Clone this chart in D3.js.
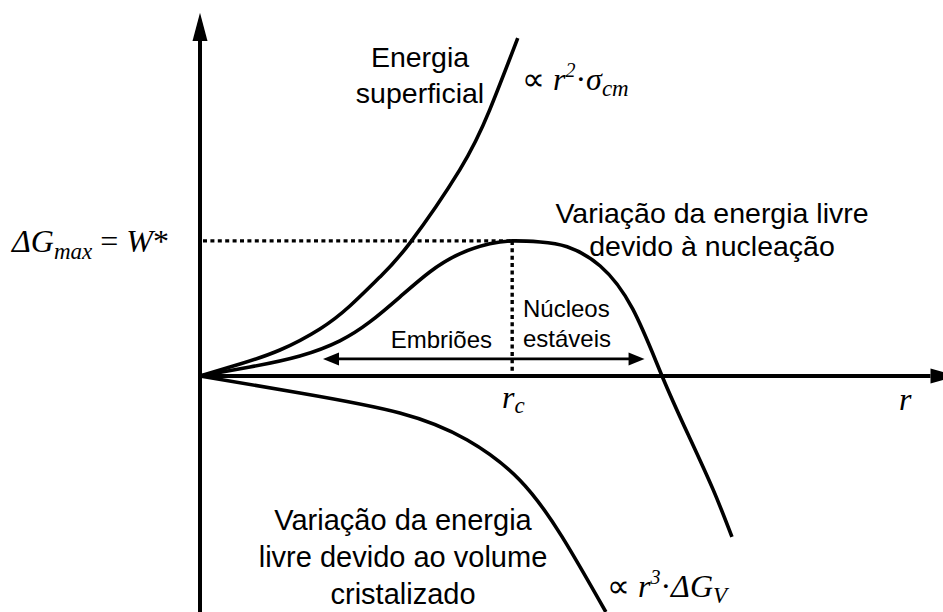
<!DOCTYPE html>
<html>
  <head>
    <meta charset="utf-8">
    <title>nucleacao</title>
    <script src="https://d3js.org/d3.v7.min.js"></script>
    <style type="text/css">
    body { margin: 0; background: #fff; }
    .curve { fill: none; stroke: #000; stroke-width: 3.6; }
    .sans { font-family: "Liberation Sans", Arial, sans-serif; fill: #000; }
    .serif { font-family: "Liberation Serif", "Times New Roman", serif; fill: #000; }
    </style>
  </head>
  <body>
    <div id="chart"></div>
    <script>
      // curves (r in units where r_c = 5, ΔG where ΔGmax = 5)
      var surfaceR = [0, 0.64, 1.28, 1.92, 2.40, 2.88, 3.36, 4.16, 4.64, 5.09];
      var surfaceG = [0, 0.44, 0.96, 1.74, 2.59, 3.66, 4.92, 7.63, 9.85, 12.51];

      var nucleoR = [0, 0.80, 1.60, 2.24, 2.72, 3.20, 3.68, 4.16, 4.64, 5.01, 5.45, 5.88, 6.41, 6.93, 7.40, 7.82, 8.22, 8.52];
      var nucleoG = [0, 0.33, 0.74, 1.30, 2.00, 2.92, 3.85, 4.52, 4.89, 5.00, 4.96, 4.78, 4.07, 2.48, 0, -2.18, -4.22, -5.96];

      var volumeR = [0, 1.60, 3.20, 4.28, 5.12, 5.80, 6.50];
      var volumeG = [0, -0.63, -1.37, -2.37, -3.85, -5.96, -8.74];

      var rc = 5.0, gMax = 5.0;
      var arrowSpan = [1.97, 7.12], arrowLevel = 0.63;

      var width = 943, height = 612;

      var svg = d3.select('#chart').append('svg')
          .attr('width', width)
          .attr('height', height);

      var x = d3.scaleLinear().domain([0, 11.9]).range([200, 943]);
      var y = d3.scaleLinear().domain([-8.74, 13.4]).range([612, 14]);

      function pts(rs, gs) {
        return rs.map(function(r, i){ return [r, gs[i]]; });
      }

      var line = d3.line()
          .x(function(d){ return x(d[0]); })
          .y(function(d){ return y(d[1]); })
          .curve(d3.curveNatural);

      // eixos
      svg.append('line')
          .attr('x1', x(0)).attr('x2', x(0))
          .attr('y1', height).attr('y2', y(12.4))
          .attr('stroke', '#000').attr('stroke-width', 4);
      svg.append('path')
          .attr('d', 'M' + (x(0) - 7.5) + ',' + y(12.4) + 'L' + x(0) + ',' + y(13.45) + 'L' + (x(0) + 7.5) + ',' + y(12.4) + 'Z')
          .attr('fill', '#000');

      svg.append('line')
          .attr('x1', x(0)).attr('x2', x(11.7))
          .attr('y1', y(0)).attr('y2', y(0))
          .attr('stroke', '#000').attr('stroke-width', 4);
      svg.append('path')
          .attr('d', 'M' + x(11.7) + ',' + (y(0) - 7.5) + 'L' + (x(11.7) + 27) + ',' + y(0) + 'L' + x(11.7) + ',' + (y(0) + 7.5) + 'Z')
          .attr('fill', '#000');

      // linhas pontilhadas do máximo
      svg.append('line')
          .attr('x1', x(0) + 3).attr('x2', x(rc))
          .attr('y1', y(gMax)).attr('y2', y(gMax))
          .attr('stroke', '#000').attr('stroke-width', 3.4)
          .attr('stroke-dasharray', '4,3.4');
      svg.append('line')
          .attr('x1', x(rc)).attr('x2', x(rc))
          .attr('y1', y(gMax)).attr('y2', y(0))
          .attr('stroke', '#000').attr('stroke-width', 3.4)
          .attr('stroke-dasharray', '4,3.4');

      // seta dupla embriões / núcleos
      var ay = y(arrowLevel), ax1 = x(arrowSpan[0]), ax2 = x(arrowSpan[1]);
      svg.append('line')
          .attr('x1', ax1 + 10).attr('x2', ax2 - 10)
          .attr('y1', ay).attr('y2', ay)
          .attr('stroke', '#000').attr('stroke-width', 2.6);
      svg.append('path')
          .attr('d', 'M' + ax1 + ',' + ay + 'L' + (ax1 + 16) + ',' + (ay - 6.5) + 'L' + (ax1 + 16) + ',' + (ay + 6.5) + 'Z')
          .attr('fill', '#000');
      svg.append('path')
          .attr('d', 'M' + ax2 + ',' + ay + 'L' + (ax2 - 16) + ',' + (ay - 6.5) + 'L' + (ax2 - 16) + ',' + (ay + 6.5) + 'Z')
          .attr('fill', '#000');

      // curvas
      [pts(surfaceR, surfaceG), pts(nucleoR, nucleoG), pts(volumeR, volumeG)].forEach(function(d){
        svg.append('path').attr('class', 'curve').attr('d', line(d));
      });

      // textos sans
      function sansLines(lines, cx, y0, step, size, anchor) {
        var t = svg.append('text').attr('class', 'sans')
            .attr('font-size', size).attr('text-anchor', anchor || 'middle');
        lines.forEach(function(s, i){
          t.append('tspan').attr('x', cx).attr('y', y0 + i * step).text(s);
        });
      }
      sansLines(['Energia', 'superficial'], 420, 67, 36, 28.5);
      sansLines(['Variação da energia livre', 'devido à nucleação'], 712, 223, 32.5, 28.5);
      sansLines(['Variação da energia', 'livre devido ao volume', 'cristalizado'], 403, 530, 37, 29);
      sansLines(['Núcleos', 'estáveis'], 523, 317, 30, 24, 'start');
      sansLines(['Embriões'], 492, 348, 0, 24, 'end');

      // textos serif (fórmulas)
      function formula(px, py, parts) {
        var t = svg.append('text').attr('class', 'serif').attr('x', px).attr('y', py).attr('font-size', 32);
        parts.forEach(function(p){
          var s = t.append('tspan').text(p.t)
              .attr('font-style', p.up ? 'normal' : 'italic');
          if (p.size) s.attr('font-size', p.size);
          if (p.dy) s.attr('dy', p.dy);
        });
      }
      formula(12, 252, [
        {t: 'ΔG'}, {t: 'max', size: 23, dy: 7}, {t: ' = ', up: true, dy: -7}, {t: 'W'}, {t: '*', up: true}
      ]);
      formula(522, 90, [
        {t: '∝ ', up: true}, {t: 'r'}, {t: '2', size: 20, dy: -13}, {t: '·', up: true, dy: 13},
        {t: 'σ'}, {t: 'cm', size: 23, dy: 6}
      ]);
      formula(607, 597, [
        {t: '∝ ', up: true}, {t: 'r'}, {t: '3', size: 20, dy: -13}, {t: '·', up: true, dy: 13},
        {t: 'ΔG'}, {t: 'V', size: 23, dy: 6}
      ]);
      formula(502, 408, [{t: 'r'}, {t: 'c', size: 23, dy: 5}]);
      formula(899, 410, [{t: 'r'}]);
    </script>
  </body>
</html>
